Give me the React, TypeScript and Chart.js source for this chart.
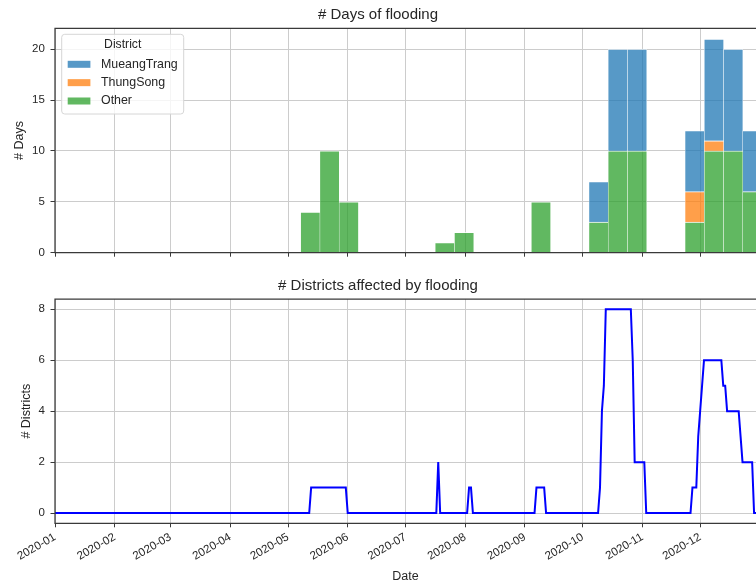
import React, { useEffect, useRef } from 'react';
import { Chart, registerables } from 'chart.js';

Chart.register(...registerables);

// ---------------- data ----------------
const districts = ['MueangTrang', 'ThungSong', 'Other'];

// histogram bins (left edge of each bin), width in days
const binStarts = [
  '2020-05-07T14:24', '2020-05-17T13:55', '2020-05-27T13:26', '2020-06-06T12:58',
  '2020-06-16T12:29', '2020-06-26T12:00', '2020-07-06T11:31', '2020-07-16T11:02',
  '2020-07-26T10:34', '2020-08-05T10:05', '2020-08-15T09:36', '2020-08-25T09:07',
  '2020-09-04T08:38', '2020-09-14T08:10', '2020-09-24T07:41', '2020-10-04T07:12',
  '2020-10-14T06:43', '2020-10-24T06:14', '2020-11-03T05:46', '2020-11-13T05:17',
  '2020-11-23T04:48', '2020-12-03T04:19', '2020-12-13T03:50', '2020-12-23T03:22',
];
const binWidthDays = 9.98;
const daysMueangTrang = [0, 0, 0, 0, 0, 0, 0, 0, 0, 0, 0, 0, 0, 0, 0, 4, 10, 10, 0, 0, 6, 10, 10, 6];
const daysThungSong = [0, 0, 0, 0, 0, 0, 0, 0, 0, 0, 0, 0, 0, 0, 0, 0, 0, 0, 0, 0, 3, 1, 0, 0];
const daysOther = [4, 10, 5, 0, 0, 0, 0, 1, 2, 0, 0, 0, 5, 0, 0, 3, 10, 10, 0, 0, 3, 10, 10, 6];

// districts affected (line)
const lineDates = [
  '2020-01-01', '2020-05-12', '2020-05-13', '2020-05-31', '2020-06-01', '2020-07-17',
  '2020-07-18', '2020-07-19', '2020-08-02', '2020-08-03', '2020-08-04', '2020-08-05',
  '2020-09-06', '2020-09-07', '2020-09-11', '2020-09-12', '2020-10-09', '2020-10-10',
  '2020-10-11', '2020-10-12', '2020-10-13', '2020-10-26', '2020-10-27', '2020-10-28',
  '2020-11-02', '2020-11-03', '2020-11-26', '2020-11-27', '2020-11-29', '2020-11-30',
  '2020-12-01', '2020-12-02', '2020-12-03', '2020-12-12', '2020-12-13', '2020-12-14',
  '2020-12-15', '2020-12-21', '2020-12-22', '2020-12-23', '2020-12-28', '2020-12-29',
  '2020-12-31',
];
const districtCounts = [
  0, 0, 1, 1, 0, 0, 2, 0, 0, 1, 1, 0, 0, 1, 1, 0, 0, 1, 4, 5, 8, 8, 6, 2, 2, 0, 0, 1, 1, 3,
  4, 5, 6, 6, 5, 5, 4, 4, 3, 2, 2, 0, 0,
];

const monthTickDates = [
  '2020-01-01', '2020-02-01', '2020-03-01', '2020-04-01', '2020-05-01', '2020-06-01',
  '2020-07-01', '2020-08-01', '2020-09-01', '2020-10-01', '2020-11-01', '2020-12-01',
];
const monthTickLabels = [
  '2020-01', '2020-02', '2020-03', '2020-04', '2020-05', '2020-06',
  '2020-07', '2020-08', '2020-09', '2020-10', '2020-11', '2020-12',
];
const xStartDate = '2020-01-01';
const xEndDate = '2020-12-30';

const daysTicks = [0, 5, 10, 15, 20];
const districtTicks = [0, 2, 4, 6, 8];
const daysMax = 22.05;
const districtMin = -0.4;
const districtMax = 8.4;

// ---------------- styles ----------------
const FONT = "'Liberation Sans', Arial, 'DejaVu Sans', sans-serif";
const TEXT = '#262626';
const SPINE = '#3a3a3a';
const GRID = '#cccccc';
const BLUE = 'rgba(31,119,180,0.75)';
const ORANGE = 'rgba(255,127,14,0.75)';
const GREEN = 'rgba(44,160,44,0.75)';

Chart.defaults.font.family = FONT;
Chart.defaults.color = TEXT;

function toDay(s: string): number {
  const [d, t] = s.split('T');
  const [y, m, dd] = d.split('-').map(Number);
  let ms = Date.UTC(y, m - 1, dd);
  if (t) {
    const [hh, mm] = t.split(':').map(Number);
    ms += (hh * 60 + mm) * 60000;
  }
  const [y0, m0, d0] = xStartDate.split('-').map(Number);
  return (ms - Date.UTC(y0, m0 - 1, d0)) / 86400000;
}

const monthTickDays = monthTickDates.map(toDay);
const xMin = toDay(xStartDate);
const xMax = toDay(xEndDate);

const spinesPlugin = {
  id: 'spines',
  afterDatasetsDraw(chart: any) {
    const { ctx, chartArea } = chart;
    const { left, right, top, bottom } = chartArea;
    ctx.save();
    ctx.strokeStyle = SPINE;
    ctx.lineWidth = 1.25;
    ctx.lineCap = 'square';
    ctx.beginPath();
    ctx.moveTo(left, top);
    ctx.lineTo(right, top);
    ctx.moveTo(left, top);
    ctx.lineTo(left, bottom);
    ctx.lineTo(right, bottom);
    ctx.stroke();
    ctx.restore();
  },
};

const insideLegendPlugin = {
  id: 'insideLegend',
  afterDatasetsDraw(chart: any) {
    const { ctx, chartArea } = chart;
    const items = chart.data.datasets.slice().reverse();
    const x0 = chartArea.left + 6.7;
    const y0 = chartArea.top + 6;
    const w = 122;
    const h = 79.7;
    const r = 3;
    ctx.save();
    ctx.beginPath();
    ctx.moveTo(x0 + r, y0);
    ctx.lineTo(x0 + w - r, y0);
    ctx.arcTo(x0 + w, y0, x0 + w, y0 + r, r);
    ctx.lineTo(x0 + w, y0 + h - r);
    ctx.arcTo(x0 + w, y0 + h, x0 + w - r, y0 + h, r);
    ctx.lineTo(x0 + r, y0 + h);
    ctx.arcTo(x0, y0 + h, x0, y0 + h - r, r);
    ctx.lineTo(x0, y0 + r);
    ctx.arcTo(x0, y0, x0 + r, y0, r);
    ctx.closePath();
    ctx.fillStyle = 'rgba(255,255,255,0.8)';
    ctx.fill();
    ctx.strokeStyle = '#d6d6d6';
    ctx.lineWidth = 1;
    ctx.stroke();

    ctx.fillStyle = TEXT;
    ctx.textBaseline = 'middle';
    ctx.textAlign = 'center';
    ctx.font = `12.2px ${FONT}`;
    ctx.fillText('District', x0 + w / 2, y0 + 10.7);

    ctx.textAlign = 'left';
    ctx.font = `12.4px ${FONT}`;
    items.forEach((ds: any, i: number) => {
      const yc = y0 + 30 + i * 18.35;
      ctx.fillStyle = ds.backgroundColor;
      ctx.fillRect(x0 + 6, yc - 3.5, 22.7, 7);
      ctx.fillStyle = TEXT;
      ctx.fillText(ds.label, x0 + 39.3, yc);
    });
    ctx.restore();
  },
};

const binCenters = binStarts.map((s) => toDay(s) + binWidthDays / 2);
const toBars = (vals: number[]) => binCenters.map((x, i) => ({ x, y: vals[i] ? vals[i] : null }));

const barStyle = {
  borderColor: 'rgba(255,255,255,0.7)',
  borderWidth: { top: 1, left: 0.5, right: 0.5, bottom: 0 },
  borderSkipped: false,
  barPercentage: 1,
  categoryPercentage: 1,
};

const xGrid = {
  offset: false,
  color: GRID,
  lineWidth: 1,
  drawTicks: true,
  tickLength: 4,
  tickColor: SPINE,
  tickWidth: 1,
};

function setTicks(values: number[]) {
  return (scale: any) => {
    scale.ticks = values.map((v) => ({ value: v }));
  };
}

export default function App() {
  const topRef = useRef<HTMLCanvasElement>(null);
  const botRef = useRef<HTMLCanvasElement>(null);

  useEffect(() => {
    const top = new Chart(topRef.current as HTMLCanvasElement, {
      type: 'bar',
      data: {
        datasets: [
          { label: districts[2], data: toBars(daysOther), backgroundColor: GREEN, ...barStyle } as any,
          { label: districts[1], data: toBars(daysThungSong), backgroundColor: ORANGE, ...barStyle } as any,
          { label: districts[0], data: toBars(daysMueangTrang), backgroundColor: BLUE, ...barStyle } as any,
        ],
      },
      options: {
        responsive: false,
        animation: false,
        devicePixelRatio: 1,
        layout: { padding: 0 },
        plugins: {
          legend: { display: false },
          tooltip: { enabled: false },
          title: {
            display: true,
            text: '# Days of flooding',
            color: TEXT,
            font: { family: FONT, size: 15, weight: 'normal' },
            padding: { top: 6.3, bottom: 4 },
          },
        },
        scales: {
          x: {
            type: 'linear',
            stacked: true,
            min: xMin,
            max: xMax,
            offset: false,
            grid: xGrid,
            border: { display: false },
            ticks: { display: false },
            afterBuildTicks: setTicks(monthTickDays),
            afterFit: (s: any) => { s.height = 17.3; },
          },
          y: {
            stacked: true,
            min: 0,
            max: daysMax,
            grid: { color: GRID, lineWidth: 1, drawTicks: true, tickLength: 4.5, tickColor: SPINE, tickWidth: 1 },
            border: { display: false },
            ticks: { color: TEXT, font: { family: FONT, size: 11.5 }, padding: 5.7 },
            afterBuildTicks: setTicks(daysTicks),
            afterFit: (s: any) => { s.width = 55; },
            title: {
              display: true,
              text: '# Days',
              color: TEXT,
              font: { family: FONT, size: 12.5 },
              padding: { top: 11.7, bottom: 0 },
            },
          },
        },
      } as any,
      plugins: [spinesPlugin, insideLegendPlugin],
    });

    const bot = new Chart(botRef.current as HTMLCanvasElement, {
      type: 'line',
      data: {
        datasets: [
          {
            label: '# Districts',
            data: lineDates.map((d, i) => ({ x: toDay(d), y: districtCounts[i] })),
            borderColor: '#0000ff',
            borderWidth: 2,
            pointRadius: 0,
            tension: 0,
            fill: false,
          },
        ],
      },
      options: {
        responsive: false,
        animation: false,
        devicePixelRatio: 1,
        layout: { padding: 0 },
        plugins: {
          legend: { display: false },
          tooltip: { enabled: false },
          title: {
            display: true,
            text: '# Districts affected by flooding',
            color: TEXT,
            font: { family: FONT, size: 15, weight: 'normal' },
            padding: { top: 6.5, bottom: 4.5 },
          },
        },
        scales: {
          x: {
            type: 'linear',
            min: xMin,
            max: xMax,
            offset: false,
            grid: xGrid,
            border: { display: false },
            ticks: {
              color: TEXT,
              font: { family: FONT, size: 11.5 },
              minRotation: 30,
              maxRotation: 30,
              autoSkip: false,
              padding: 3,
              callback: (_v: any, i: number) => monthTickLabels[i],
            },
            afterBuildTicks: setTicks(monthTickDays),
            afterFit: (s: any) => { s.height = 62.7; },
            title: {
              display: true,
              text: 'Date',
              color: TEXT,
              font: { family: FONT, size: 12.5 },
              padding: { top: 0, bottom: 1.5 },
            },
          },
          y: {
            min: districtMin,
            max: districtMax,
            grid: { color: GRID, lineWidth: 1, drawTicks: true, tickLength: 4.5, tickColor: SPINE, tickWidth: 1 },
            border: { display: false },
            ticks: { color: TEXT, font: { family: FONT, size: 11.5 }, padding: 5.7 },
            afterBuildTicks: setTicks(districtTicks),
            afterFit: (s: any) => { s.width = 55; },
            title: {
              display: true,
              text: '# Districts',
              color: TEXT,
              font: { family: FONT, size: 12.5 },
              padding: { top: 18.7, bottom: 0 },
            },
          },
        },
      } as any,
      plugins: [spinesPlugin],
    });

    return () => {
      top.destroy();
      bot.destroy();
    };
  }, []);

  return (
    <div
      style={{
        position: 'absolute',
        left: 0,
        top: 0,
        width: 756,
        height: 586,
        overflow: 'hidden',
        background: '#ffffff',
      }}
    >
      <canvas ref={topRef} width={756} height={270} style={{ position: 'absolute', left: 0, top: 0 }} />
      <canvas ref={botRef} width={756} height={316} style={{ position: 'absolute', left: 0, top: 270 }} />
    </div>
  );
}
